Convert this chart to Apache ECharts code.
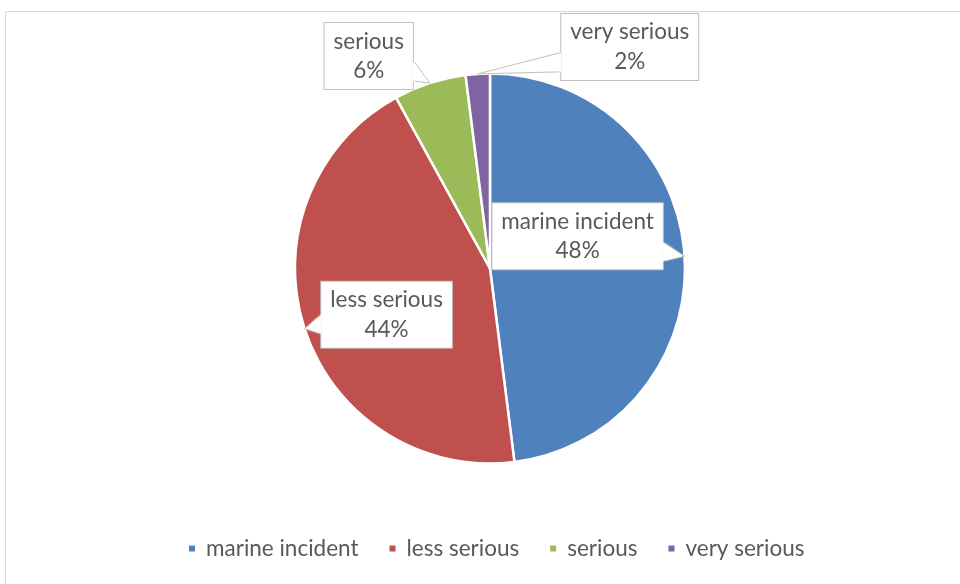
<!DOCTYPE html>
<html>
<head>
<meta charset="utf-8">
<script src="https://cdn.jsdelivr.net/npm/echarts@6/dist/echarts.min.js"></script>
<style>
  html, body { margin: 0; padding: 0; background: #ffffff; }
  #chart { width: 960px; height: 584px; }
</style>
</head>
<body>
<div id="chart"></div>
<script>
// Incident severity breakdown
const categories = ['marine incident', 'less serious', 'serious', 'very serious'];
const shares = [48, 44, 6, 2];
const sliceColors = ['#4f81bd', '#c0504d', '#9bbb59', '#8064a2'];

// Where each callout box sits, relative to the rim point it points at
const calloutShift = [[-107, -20], [82, -14], [-61, -27], [152, -27]];

const FONT = 'Lato';
const TEXT = '#595959';
const BOX_LINE = '#bfbfbf';

const chart = echarts.init(document.getElementById('chart'), null, { renderer: 'canvas' });

let tips = [];          // rim point at each slice's middle angle
let wedges = [];        // callout pointer shapes

function placeCallout(params) {
  const i = params.dataIndex;
  const tip = tips[i];
  if (!tip) return {};
  const sh = calloutShift[i];
  const cx = tip[0] + sh[0];
  const cy = tip[1] + sh[1];
  const w = params.labelRect.width;
  const h = params.labelRect.height;
  const left = cx - w / 2, right = cx + w / 2, top = cy - h / 2, bottom = cy + h / 2;
  let edge, dir;
  if (tip[0] > right) { edge = right; dir = 1; } else { edge = left; dir = -1; }
  const y2 = Math.max(top + 19, Math.min(tip[1] + 5, bottom - 9));
  const y1 = y2 - 19;
  wedges[i] = { edge: Math.round(edge) + 0.5 * dir, dir, y1, y2, tip };
  return { x: cx, y: cy, align: 'center', verticalAlign: 'middle' };
}

function buildOption() {
  const graphics = [{
    type: 'rect', silent: true, z: -10,
    shape: { x: 5.5, y: 11.5, width: 1200, height: 1200 },
    style: { fill: 'none', stroke: '#d9d9d9', lineWidth: 1 }
  }];
  wedges.forEach(wd => {
    if (!wd) return;
    graphics.push({
      type: 'polygon', silent: true, z: 100,
      shape: { points: [[wd.edge - wd.dir * 1.5, wd.y1], wd.tip, [wd.edge - wd.dir * 1.5, wd.y2]] },
      style: { fill: '#ffffff', stroke: 'none' }
    });
    graphics.push({
      type: 'polyline', silent: true, z: 101,
      shape: { points: [[wd.edge, wd.y1], wd.tip, [wd.edge, wd.y2]] },
      style: { stroke: BOX_LINE, lineWidth: 1, fill: 'none' }
    });
  });
  return {
    animation: false,
    color: sliceColors,
    textStyle: { fontFamily: FONT },
    graphic: graphics,
    legend: {
      data: categories,
      left: 182,
      top: 532,
      icon: 'rect',
      itemWidth: 8,
      itemHeight: 8,
      itemGap: 29,
      textStyle: { color: TEXT, fontSize: 22.5, fontFamily: FONT, padding: [0, 0, 0, 5] }
    },
    series: [{
      type: 'pie',
      center: [490, 268.5],
      radius: 195,
      startAngle: 90,
      clockwise: true,
      avoidLabelOverlap: false,
      itemStyle: { borderColor: '#ffffff', borderWidth: 2.5 },
      label: {
        show: true,
        position: 'inside',
        formatter: '{b}\n{d}%',
        color: TEXT,
        fontSize: 22.5,
        fontFamily: FONT,
        lineHeight: 29.5,
        backgroundColor: '#ffffff',
        borderColor: BOX_LINE,
        borderWidth: 1,
        padding: [5, 9, 2, 9]
      },
      labelLine: { show: false },
      labelLayout: placeCallout,
      emphasis: { disabled: true },
      data: categories.map((name, i) => ({ name, value: shares[i] }))
    }]
  };
}

chart.setOption(buildOption());

// Read the slice geometry the pie laid out, then place the callouts on it
const seriesData = chart.getModel().getSeriesByIndex(0).getData();
tips = categories.map((_, i) => {
  const lay = seriesData.getItemLayout(i);
  const mid = (lay.startAngle + lay.endAngle) / 2;
  return [lay.cx + lay.r * Math.cos(mid), lay.cy + lay.r * Math.sin(mid)];
});
chart.setOption(buildOption(), true);
chart.setOption(buildOption(), true);
</script>
</body>
</html>
